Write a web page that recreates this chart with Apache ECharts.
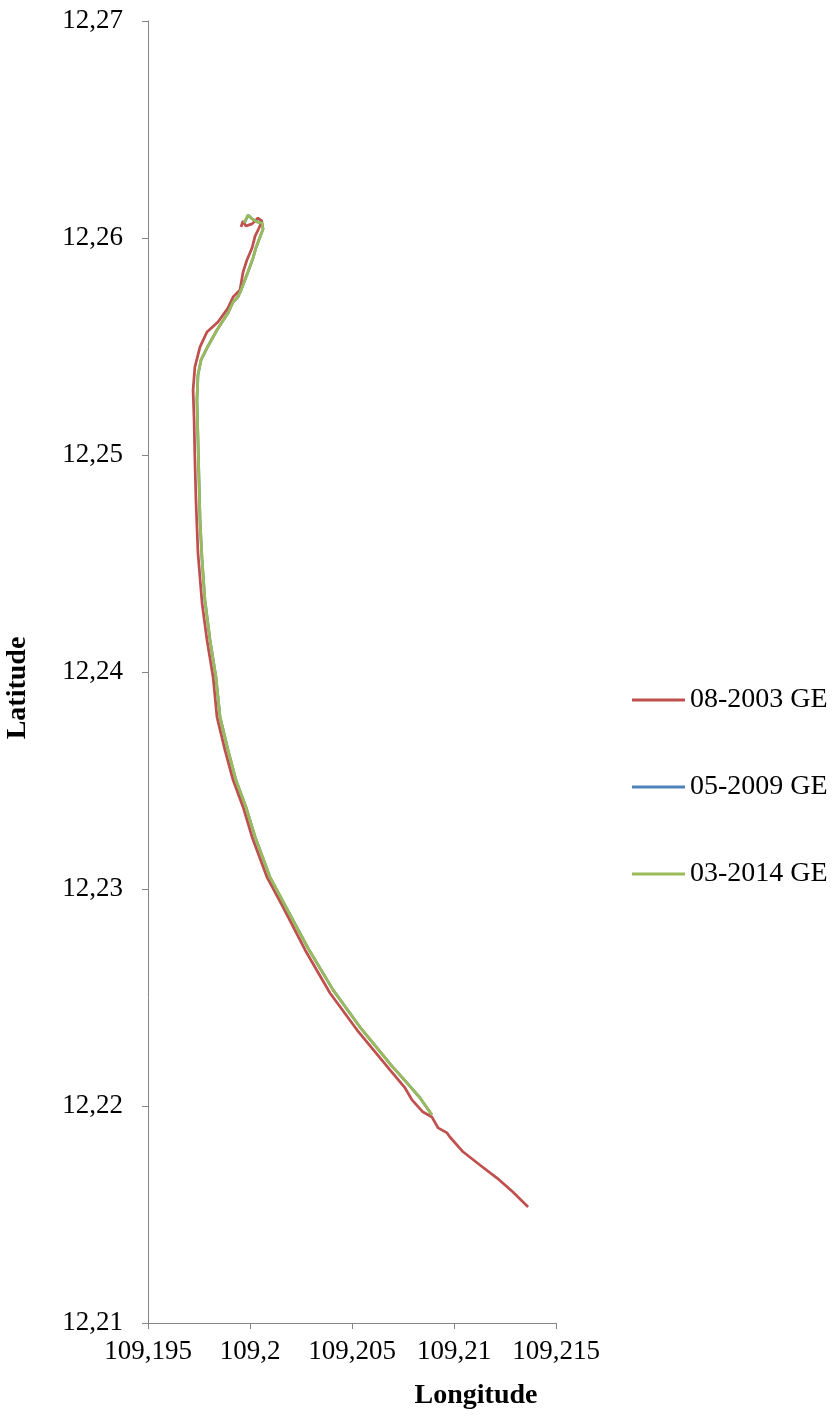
<!DOCTYPE html>
<html>
<head>
<meta charset="utf-8">
<script src="https://cdn.jsdelivr.net/npm/echarts@6/dist/echarts.min.js"></script>
<style>html,body{margin:0;padding:0;background:#fff}#c{width:834px;height:1418px}</style>
</head>
<body>
<div id="c"></div>
<script>
const seriesNames = ['08-2003 GE', '05-2009 GE', '03-2014 GE'];
const xTicks = [109.195, 109.2, 109.205, 109.21, 109.215];
const yTicks = [12.21, 12.22, 12.23, 12.24, 12.25, 12.26, 12.27];

const lon2003 = [109.19956,109.19966,109.19980,109.20010,109.20039,109.20059,109.20044,109.20025,109.20010,109.19985,109.19966,109.19951,109.19917,109.19892,109.19843,109.19789,109.19755,109.19730,109.19721,109.19726,109.19730,109.19735,109.19745,109.19765,109.19789,109.19819,109.19838,109.19877,109.19917,109.19966,109.20010,109.20083,109.20162,109.20270,109.20392,109.20525,109.20686,109.20760,109.20794,109.20848,109.20892,109.20922,109.20966,109.20980,109.21044,109.21127,109.21211,109.21289,109.21363];
const lat2003 = [12.26051,12.26078,12.26055,12.26065,12.26092,12.26078,12.26046,12.26009,12.25954,12.25899,12.25843,12.25760,12.25728,12.25677,12.25613,12.25567,12.25498,12.25406,12.25300,12.25161,12.24977,12.24793,12.24548,12.24318,12.24148,12.23977,12.23793,12.23641,12.23502,12.23378,12.23240,12.23055,12.22917,12.22719,12.22521,12.22350,12.22166,12.22083,12.22028,12.21972,12.21949,12.21899,12.21876,12.21857,12.21789,12.21728,12.21668,12.21604,12.21535];

const lon2009 = [109.19972,109.19991,109.20011,109.20035,109.20059,109.20064,109.20049,109.20029,109.20015,109.19990,109.19975,109.19956,109.19941,109.19917,109.19892,109.19838,109.19789,109.19760,109.19745,109.19740,109.19745,109.19750,109.19755,109.19765,109.19779,109.19804,109.19833,109.19853,109.19892,109.19931,109.19980,109.20025,109.20098,109.20176,109.20284,109.20407,109.20539,109.20696,109.20775,109.20833,109.20868,109.20891];
const lat2009 = [12.26069,12.26105,12.26088,12.26074,12.26069,12.26041,12.26005,12.25954,12.25908,12.25843,12.25806,12.25760,12.25728,12.25705,12.25654,12.25576,12.25493,12.25438,12.25369,12.25253,12.25069,12.24885,12.24700,12.24516,12.24332,12.24148,12.23977,12.23793,12.23641,12.23502,12.23378,12.23240,12.23055,12.22917,12.22728,12.22535,12.22364,12.22184,12.22101,12.22038,12.21991,12.21960];

const lon2014 = [109.19971,109.19990,109.20010,109.20034,109.20059,109.20064,109.20049,109.20029,109.20015,109.19990,109.19975,109.19956,109.19941,109.19917,109.19892,109.19838,109.19789,109.19760,109.19745,109.19740,109.19745,109.19750,109.19755,109.19765,109.19779,109.19804,109.19833,109.19853,109.19892,109.19931,109.19980,109.20025,109.20098,109.20176,109.20284,109.20407,109.20539,109.20696,109.20775,109.20833,109.20868,109.20892];
const lat2014 = [12.26069,12.26106,12.26088,12.26074,12.26069,12.26041,12.26005,12.25954,12.25908,12.25843,12.25806,12.25760,12.25728,12.25705,12.25654,12.25576,12.25493,12.25438,12.25369,12.25253,12.25069,12.24885,12.24700,12.24516,12.24332,12.24148,12.23977,12.23793,12.23641,12.23502,12.23378,12.23240,12.23055,12.22917,12.22728,12.22535,12.22364,12.22184,12.22101,12.22038,12.21991,12.21959];

const colors = ['#C0504D', '#4F81BD', '#9BBB59'];
const FONT = '"Liberation Serif", "Times New Roman", serif';

function pairs(xs, ys) { return xs.map((x, i) => [x, ys[i]]); }
function fmt(v) { return String(Number(v.toFixed(4))).replace('.', ','); }

const chart = echarts.init(document.getElementById('c'), null, {renderer: 'canvas'});
const data = [pairs(lon2003, lat2003), pairs(lon2009, lat2009), pairs(lon2014, lat2014)];

chart.setOption({
  animation: false,
  backgroundColor: '#ffffff',
  color: colors,
  grid: {left: 148, right: 278, top: 21, bottom: 95, containLabel: false},
  legend: {
    orient: 'vertical', left: 627, top: 681,
    icon: 'rect', itemWidth: 53, itemHeight: 3, itemGap: 59,
    data: seriesNames,
    textStyle: {fontFamily: FONT, fontSize: 28, color: '#000', lineHeight: 28}
  },
  xAxis: {
    type: 'value', min: xTicks[0], max: xTicks[xTicks.length - 1], interval: 0.005,
    axisLine: {show: true, lineStyle: {color: '#868686', width: 1}},
    axisTick: {show: true, length: 6, lineStyle: {color: '#868686'}},
    splitLine: {show: false},
    axisLabel: {margin: 15, fontFamily: FONT, fontSize: 27, color: '#000', formatter: fmt}
  },
  yAxis: {
    type: 'value', min: yTicks[0], max: yTicks[yTicks.length - 1], interval: 0.01,
    axisLine: {show: true, lineStyle: {color: '#868686', width: 1}},
    axisTick: {show: true, length: 6, lineStyle: {color: '#868686'}},
    splitLine: {show: false},
    axisLabel: {margin: 25, fontFamily: FONT, fontSize: 27, color: '#000', formatter: fmt}
  },
  graphic: [
    {type: 'text', x: 476, y: 1396, style: {text: 'Longitude', font: 'bold 28px ' + FONT, fill: '#000', textAlign: 'center', textVerticalAlign: 'middle'}},
    {type: 'text', x: 18, y: 688, rotation: Math.PI / 2, style: {text: 'Latitude', font: 'bold 28px ' + FONT, fill: '#000', textAlign: 'center', textVerticalAlign: 'middle'}}
  ],
  series: seriesNames.map((name, i) => ({
    name: name, type: 'line', data: data[i], symbol: 'none', smooth: false,
    lineStyle: {width: 2.75, color: colors[i]}, itemStyle: {color: colors[i]}, z: 2 + i
  }))
});
</script>
</body>
</html>
